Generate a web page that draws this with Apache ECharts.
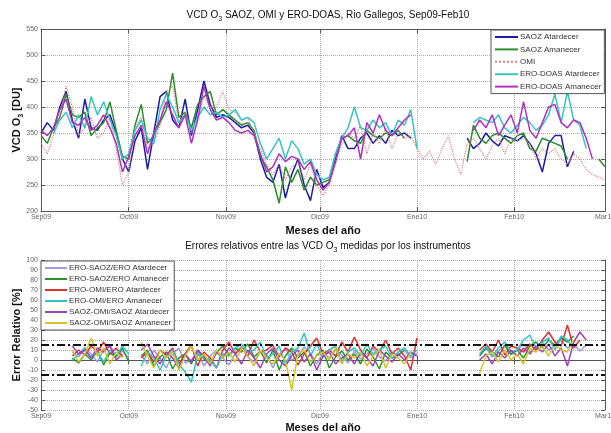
<!DOCTYPE html>
<html>
<head>
<meta charset="utf-8">
<script src="https://cdn.jsdelivr.net/npm/echarts@6/dist/echarts.min.js"></script>
<style>
  html, body { margin: 0; background: #fff; }
  #chart { width: 611px; height: 433px; }
</style>
</head>
<body>
<div id="chart"></div>
<script>
// ejes: dias desde el 1 de septiembre de 2009
const monthTicks = [2, 30, 61, 91, 122, 153, 182]
const monthLabels = ['Sep09', 'Oct09', 'Nov09', 'Dic09', 'Ene10', 'Feb10', 'Mar10']
const dayStart = 2
const dayStep = 2
const errLimits = [15, -15]

// VCD O3 [DU], un valor cada 2 dias (null = sin medida)
const saozPm = [
  350, 370, 355, 400, 430, 375, 340, 415, 360, 355,
  375, 385, 350, 300, 275, 335, 360, 280, 350, 420,
  430, 375, 360, 415, 345, 395, 450, 405, 380, 385,
  380, 370, 360, 365, 350, 300, 265, 255, 290, 225,
  270, 300, 250, 220, 280, 245, 255, 300, 345, 320,
  320, 340, 350, 330, 345, 330, 355, 345, 350, 340,
  null, null, null, null, null, null, null, null, 340, 320,
  330, 350, 335, 325, 345, 340, 335, 345, 330, 310,
  275, 330, 345, 345, 285, 315, null, null, null, null,
  null
]
const saozAm = [
  345, 330, 360, 380, 425, 385, 380, 390, 345, 360,
  370, 410, 355, 305, 300, 365, 405, 330, 345, 370,
  395, 465, 380, 390, 360, 405, 420, 430, 385, 395,
  385, 375, 365, 370, 355, 305, 285, 260, 215, 285,
  255, 280, 240, 265, 250, 255, 260, 310, 340, 345,
  335, 330, 355, 345, 340, 350, 345, 355, 340, null,
  null, null, null, null, null, null, null, null, 295, 365,
  340, 330, 345, 350, 340, 330, 345, 350, 320, 315,
  340, 335, 330, 325, 300, null, null, null, null, 300,
  285
]
const omi = [
  330, 310, 345, 380, 440, 400, 345, 360, 380, 340,
  350, 380, 320, 250, 275, 360, 380, 320, 330, 365,
  430, 440, 370, 390, 350, 380, 420, 400, 400, 430,
  395, 390, 375, 380, 350, 320, 290, 270, 290, 260,
  285, 295, 260, 290, 250, 230, 250, 290, 330, 350,
  340, 365, 310, 350, 330, 360, 320, 350, 340, 345,
  320, 300, 315, 290, 320, 345, 300, 270, 330, 340,
  320, 300, 325, 340, 310, 340, 335, 340, 330, 300,
  320, 310, 320, 300, 290, 310, 300, 280, 270, 265,
  260
]
const eroPm = [
  null, null, 350, 375, 390, 360, 385, 360, 420, 385,
  410, 375, 345, 300, 310, 355, 375, 340, 330, 395,
  425, 400, 370, 385, 355, 380, 400, 385, 390, 380,
  385, 395, 375, 380, 370, 330, 300, 320, 340, 300,
  335, 320, 290, 300, 270, 260, 265, 310, 340, 360,
  400, 360, 355, 375, 360, 370, 345, 375, 365, 395,
  320, null, null, null, null, null, null, null, null, 370,
  380, 375, 370, 385, 360, 350, 365, 380, 370, 355,
  365, 385, 425, 370, 430, 375, 365, 320, null, null,
  null
]
const eroAm = [
  355, 345, 360, 395, 415, 370, 365, 380, 355, 365,
  385, 360, 330, 275, 305, 345, 365, 310, 350, 375,
  410, 385, 360, 385, 330, 375, 440, 395, 375, 380,
  370, 355, 350, 355, 345, 310, 275, 285, 310, 295,
  305, 300, 280, 295, 260, 240, 255, 295, 340, 345,
  360, 300, 370, 350, 385, 355, 345, 360, 375, 385,
  null, null, null, null, null, null, null, null, null, 355,
  375, 360, 385, 345, 365, 385, 350, 410, 355, 340,
  370, 400, 405, 370, 360, 375, 370, 340, 300, null,
  null
]

// errores relativos [%], mismo paso de 2 dias
const errEroSaozPm = [
  null, null, null, null, null, 8, 3, 12, 6, -2,
  10, 15, 4, 9, 2, null, 5, -4, 10, 2,
  -8, 6, 12, -3, 0, 8, -6, 4, 10, 2,
  -5, 7, 14, 3, -2, 9, 5, -8, 6, 11,
  0, 4, 13, 7, -4, 8, 2, 10, 5, -3,
  9, 1, 6, 12, 3, -1, 8, 4, 10, 2,
  7, null, null, null, null, null, null, null, null, null,
  6, 12, 3, 9, 14, 5, 10, 16, 8, 12,
  18, 10, 14, 20, 12, 16, 9, 15, null, null,
  null
]
const errEroSaozAm = [
  null, null, null, null, null, 2, -3, 6, 0, 9,
  -5, 7, 3, 12, -2, null, 4, 10, -6, 3,
  8, -9, 2, 6, -4, 10, 1, -2, 7, 14,
  5, 12, 8, 16, 3, 9, -3, 10, -10, 4,
  12, 2, 8, -6, 5, 10, -8, 3, 9, 0,
  6, -4, 11, 3, -9, 8, 2, 5, 10, null,
  null, null, null, null, null, null, null, null, null, null,
  4, 12, 8, 3, 15, 6, 10, 2, 14, 18,
  12, 20, 15, 22, 18, 24, null, null, null, null,
  null
]
const errEroOmiPm = [
  null, null, null, null, null, 4, 10, 5, 14, 8,
  18, 6, 12, 3, null, null, 2, 8, -2, 10,
  5, 12, -4, 6, 15, -6, 8, 2, -8, 10,
  18, 6, 12, 4, 20, 8, 10, 15, 3, 12,
  8, -5, 6, 14, 22, 6, 10, 4, 18, 8,
  23, 10, 2, 14, 8, 20, 6, 12, 4, -10,
  22, null, null, null, null, null, null, null, null, null,
  10, 16, 8, 20, 5, 14, 12, 8, 16, 10,
  20, 28, 18, 14, 35, 12, 20, null, null, null,
  null
]
const errEroOmiAm = [
  null, null, null, null, null, 0, 6, 12, 2, 8,
  -2, 10, 4, 14, 6, null, -6, 8, 2, -10,
  4, 10, -4, -12, -22, 6, 2, 0, -8, 6,
  4, 12, 16, 8, 10, 18, 2, 6, 14, -4,
  8, 12, 27, 4, 16, 2, 10, 14, -2, 8,
  12, 4, 16, 6, 10, 14, 2, 8, 12, 4,
  10, null, null, null, null, null, null, null, null, null,
  6, 14, 4, 12, 18, 8, 10, 20, 25, 12,
  18, 22, 10, 24, 20, 12, null, null, null, null,
  null
]
const errSaozOmiPm = [
  null, null, null, null, null, 14, 6, 10, 2, 12,
  8, 14, 0, 6, null, null, 10, 16, 4, -4,
  8, 2, -8, 6, -2, 10, 4, -6, 8, 2,
  12, 6, -4, 10, 2, -8, 6, 12, 0, -6,
  4, 10, -2, 6, -10, 4, 8, -4, 2, 6,
  -4, 8, 2, -6, 10, 4, -2, 6, 0, 8,
  4, null, null, null, null, null, null, null, null, null,
  0, 6, -4, 8, 2, 10, 4, 12, 6, 14,
  8, 16, 4, 12, -6, 18, 28, 20, null, null,
  null
]
const errSaozOmiAm = [
  null, null, null, null, null, 10, -2, 6, 22, 4,
  12, -4, 8, 2, null, null, 18, 4, -8, 10,
  2, 8, -10, 4, 14, 0, 6, -4, 10, 2,
  8, -2, 12, 4, -6, 10, 2, -4, 6, 0,
  -30, 6, 10, -2, 4, 8, 0, 12, -4, 6,
  2, 8, -6, 4, 10, -8, 6, 2, -4, 8,
  null, null, null, null, null, null, null, null, null, null,
  -13, 4, 8, -2, 10, 0, 6, -4, 12, 8,
  14, 4, 16, 10, 8, 20, null, null, null, null,
  null
]

const FONT = "'Liberation Sans', Arial, sans-serif"
const AXIS_COLOR = '#555'

const toPoints = (vals) => vals.map((v, i) => [dayStart + i * dayStep, v == null ? '-' : v])

const subRich = {
  s: { fontSize: 7, verticalAlign: 'bottom', fontFamily: FONT, color: '#111' }
}

// eje x inferior con los meses + eje x superior solo con marcas
const monthAxes = (gridIndex, gap) => [
  {
    type: 'value', gridIndex, min: 2, max: 182, position: 'bottom',
    axisLine: { lineStyle: { color: AXIS_COLOR } },
    axisTick: { inside: true, length: 4, customValues: monthTicks, lineStyle: { color: AXIS_COLOR } },
    axisLabel: {
      customValues: monthTicks,
      formatter: (v) => monthLabels[monthTicks.indexOf(v)] || '',
      fontSize: 7, color: '#666', margin: 3, fontFamily: FONT
    },
    splitLine: { show: true, lineStyle: { type: 'dotted', color: '#aaa' } },
    name: 'Meses del año', nameLocation: 'middle', nameGap: gap, nameMoveOverlap: false,
    nameTextStyle: { fontWeight: 'bold', fontSize: 11, color: '#111', fontFamily: FONT }
  },
  {
    type: 'value', gridIndex, min: 2, max: 182, position: 'top',
    axisLine: { lineStyle: { color: AXIS_COLOR } },
    axisTick: { inside: true, length: 4, customValues: monthTicks, lineStyle: { color: AXIS_COLOR } },
    axisLabel: { show: false },
    splitLine: { show: false }
  }
]

// eje y con etiquetas a la izquierda + copia a la derecha
const valueAxes = (gridIndex, min, max, interval, name, gap) => [
  {
    type: 'value', gridIndex, min, max, interval, position: 'left',
    axisLine: { show: true, lineStyle: { color: AXIS_COLOR } },
    axisTick: { show: true, inside: true, length: 4, lineStyle: { color: AXIS_COLOR } },
    axisLabel: { fontSize: 7, color: '#666', margin: 3, fontFamily: FONT },
    splitLine: { show: true, lineStyle: { type: 'dotted', color: '#aaa' } },
    name, nameLocation: 'middle', nameGap: gap, nameMoveOverlap: false,
    nameTextStyle: { fontWeight: 'bold', fontSize: 11, color: '#111', fontFamily: FONT, lineHeight: 16, rich: subRich }
  },
  {
    type: 'value', gridIndex, min, max, interval, position: 'right',
    axisLine: { show: true, lineStyle: { color: AXIS_COLOR } },
    axisTick: { show: true, inside: true, length: 4, lineStyle: { color: AXIS_COLOR } },
    axisLabel: { show: false },
    splitLine: { show: false }
  }
]

const lineSeries = (name, data, color, xAxisIndex, yAxisIndex, extra = {}) => ({
  name, type: 'line', data: toPoints(data), xAxisIndex, yAxisIndex,
  symbol: 'none', connectNulls: false,
  lineStyle: { color, width: 1.5 },
  itemStyle: { color },
  ...extra
})

const legendBase = {
  orient: 'vertical',
  backgroundColor: '#fff',
  borderColor: '#555',
  borderWidth: 1,
  borderRadius: 0,
  itemHeight: 8,
  padding: [2, 3, 2, 3],
  itemStyle: { opacity: 0 },
  textStyle: { fontSize: 8, lineHeight: 10, color: '#333', fontFamily: FONT, padding: [0, 0, 0, -3] }
}

const chart = echarts.init(document.getElementById('chart'))

chart.setOption({
  animation: false,
  backgroundColor: '#fff',
  title: [
    {
      text: 'VCD O{s|3} SAOZ, OMI y ERO-DOAS, Rio Gallegos, Sep09-Feb10',
      left: 323, top: 3, textAlign: 'center',
      textStyle: { fontSize: 10, fontWeight: 'normal', color: '#111', fontFamily: FONT, lineHeight: 15, rich: subRich }
    },
    {
      text: 'Errores relativos entre las VCD O{s|3} medidas por los instrumentos',
      left: 323, top: 234, textAlign: 'center',
      textStyle: { fontSize: 10, fontWeight: 'normal', color: '#111', fontFamily: FONT, lineHeight: 15, rich: subRich }
    }
  ],
  legend: [
    {
      ...legendBase,
      left: 491, top: 30,
      itemWidth: 23,
      itemGap: 2.4,
      data: ['SAOZ Atardecer', 'SAOZ Amanecer', 'OMI', 'ERO-DOAS Atardecer', 'ERO-DOAS Amanecer']
    },
    {
      ...legendBase,
      left: 41, top: 261,
      itemWidth: 22,
      itemGap: 1,
      data: ['ERO-SAOZ/ERO Atardecer', 'ERO-SAOZ/ERO Amanecer', 'ERO-OMI/ERO Atardecer',
        'ERO-OMI/ERO Amanecer', 'SAOZ-OMI/SAOZ Atardecer', 'SAOZ-OMI/SAOZ Amanecer']
    }
  ],
  grid: [
    { left: 41, right: 6, top: 29, height: 182, outerBoundsMode: 'none' },
    { left: 41, right: 6, top: 260, height: 150, outerBoundsMode: 'none' }
  ],
  xAxis: [...monthAxes(0, 14), ...monthAxes(1, 12)],
  yAxis: [
    ...valueAxes(0, 200, 550, 50, 'VCD O{s|3} [DU]', 16),
    ...valueAxes(1, -50, 100, 10, 'Error Relativo [%]', 16)
  ],
  series: [
    lineSeries('SAOZ Atardecer', saozPm, '#1c1ca8', 0, 0),
    lineSeries('SAOZ Amanecer', saozAm, '#2e8b2e', 0, 0),
    lineSeries('OMI', omi, '#d98080', 0, 0, { lineStyle: { color: '#d98080', width: 1.2, type: 'dotted' } }),
    lineSeries('ERO-DOAS Atardecer', eroPm, '#38c4c4', 0, 0),
    lineSeries('ERO-DOAS Amanecer', eroAm, '#b030c0', 0, 0),
    lineSeries('ERO-SAOZ/ERO Atardecer', errEroSaozPm, '#9c9ce0', 2, 2, {
      markLine: {
        symbol: 'none', silent: true, label: { show: false },
        lineStyle: { color: '#111', type: [8, 3, 2, 3], width: 2 },
        data: errLimits.map((v) => ({ yAxis: v }))
      }
    }),
    lineSeries('ERO-SAOZ/ERO Amanecer', errEroSaozAm, '#2a962a', 2, 2),
    lineSeries('ERO-OMI/ERO Atardecer', errEroOmiPm, '#e03030', 2, 2),
    lineSeries('ERO-OMI/ERO Amanecer', errEroOmiAm, '#30c4c4', 2, 2),
    lineSeries('SAOZ-OMI/SAOZ Atardecer', errSaozOmiPm, '#a040c0', 2, 2),
    lineSeries('SAOZ-OMI/SAOZ Amanecer', errSaozOmiAm, '#d4c428', 2, 2)
  ]
})
</script>
</body>
</html>
